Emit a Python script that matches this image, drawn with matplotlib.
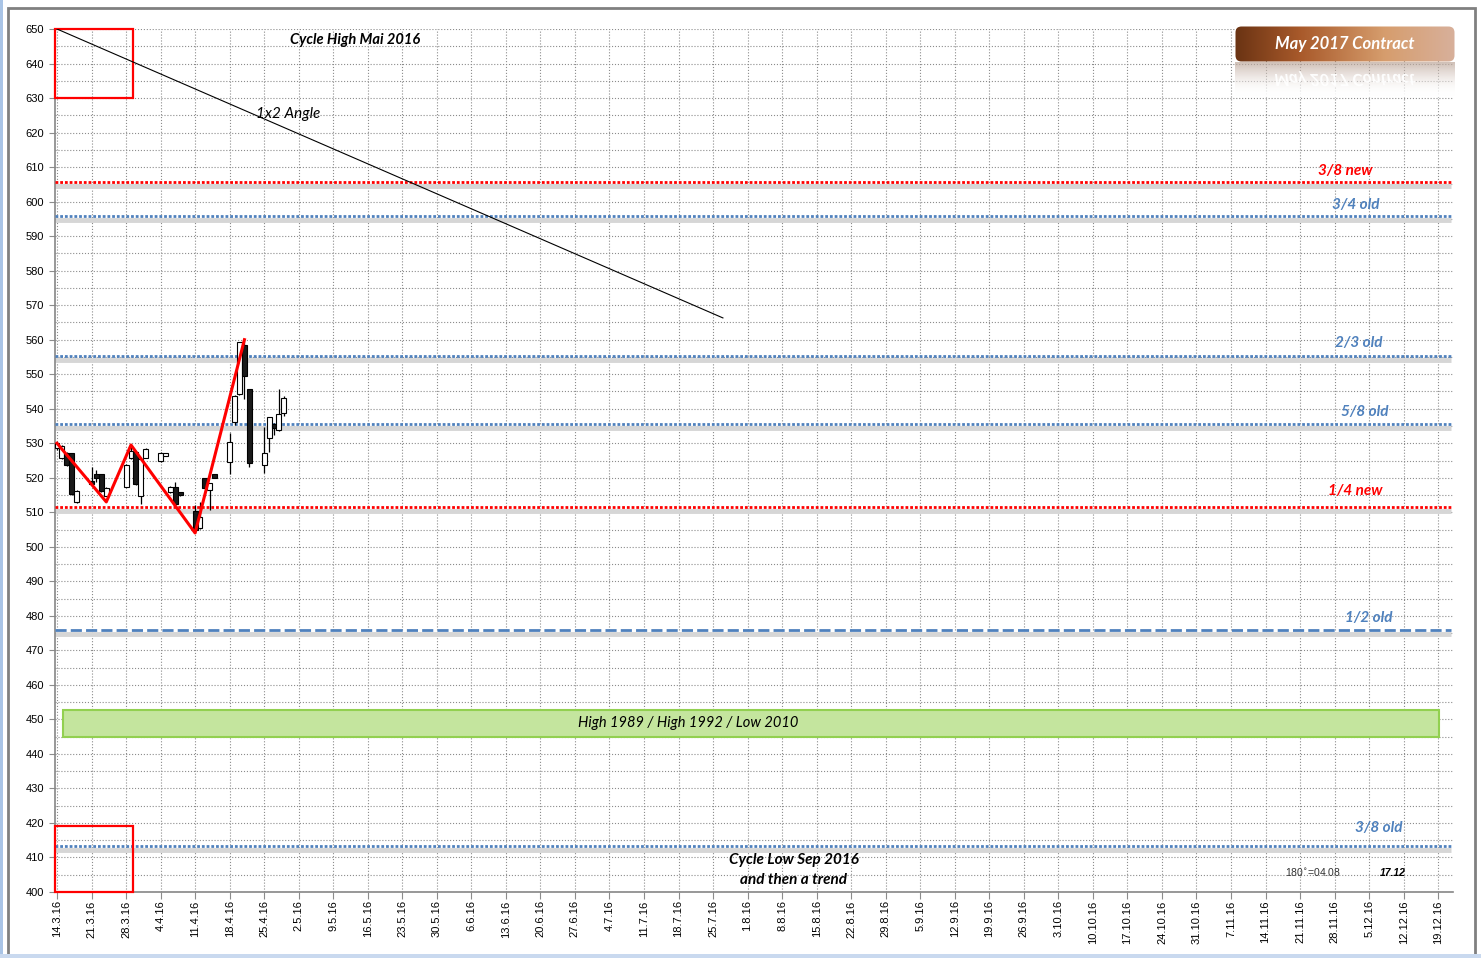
import datetime as dt
import numpy as np
import matplotlib
matplotlib.use('Agg')
import matplotlib.pyplot as plt
from matplotlib.patches import FancyBboxPatch, Rectangle, PathPatch
from matplotlib.textpath import TextPath
from matplotlib.font_manager import FontProperties
from matplotlib.transforms import Affine2D
from matplotlib.colors import LinearSegmentedColormap, to_rgb

# --- data ---
candle_dates = ['14.3.16', '15.3.16', '16.3.16', '17.3.16', '18.3.16',
                '21.3.16', '22.3.16', '23.3.16', '24.3.16',
                '28.3.16', '29.3.16', '30.3.16', '31.3.16', '1.4.16',
                '4.4.16', '5.4.16', '6.4.16', '7.4.16', '8.4.16',
                '11.4.16', '12.4.16', '13.4.16', '14.4.16', '15.4.16',
                '18.4.16', '19.4.16', '20.4.16', '21.4.16', '22.4.16',
                '25.4.16', '26.4.16', '27.4.16', '28.4.16', '29.4.16']
opens = [528.5, 525.6, 527.3, 527.1, 512.9,
         519.1, 521.0, 521.0, 514.8,
         517.4, 525.6, 527.6, 514.8, 525.8,
         524.9, 526.4, 515.8, 517.2, 515.8,
         510.5, 505.4, 519.8, 516.4, 521.0,
         524.7, 536.2, 544.2, 558.5, 545.6,
         523.6, 531.4, 535.5, 533.8, 538.7]
highs = [530.5, 529.5, 527.5, 527.3, 516.4,
         523.0, 522.2, 521.2, 517.2,
         524.0, 529.0, 527.8, 525.5, 528.5,
         527.5, 527.3, 517.6, 518.8, 516.0,
         512.0, 513.0, 520.0, 518.6, 521.2,
         533.0, 543.9, 559.4, 560.0, 545.8,
         534.8, 537.7, 536.0, 545.6, 543.6]
lows = [528.0, 525.3, 523.5, 515.0, 512.7,
        517.9, 518.9, 515.8, 514.6,
        517.2, 525.4, 517.9, 512.4, 525.6,
        524.7, 526.2, 515.6, 512.2, 514.8,
        504.0, 505.2, 516.8, 510.7, 519.8,
        521.0, 535.3, 544.0, 542.8, 523.2,
        521.3, 527.6, 532.3, 533.6, 537.9]
closes = [530.0, 529.2, 523.7, 515.2, 516.2,
          518.1, 520.0, 516.2, 517.0,
          523.7, 527.8, 518.1, 525.3, 528.3,
          527.3, 527.1, 517.4, 512.4, 515.0,
          505.0, 508.5, 517.0, 518.4, 520.0,
          530.4, 543.7, 559.2, 549.6, 524.4,
          527.3, 537.5, 534.5, 538.4, 543.0]

zigzag_dates = ['14.3.16', '24.3.16', '29.3.16', '11.4.16', '21.4.16']
zigzag_values = [530, 513, 529.5, 504, 560]

angle_dates = ['14.3.16', '27.7.16']
angle_values = [650, 566.3]

level_names = ['3/8 new', '3/4 old', '2/3 old', '5/8 old', '1/4 new', '1/2 old', '3/8 old']
level_values = [605.7, 595.8, 555.3, 535.6, 511.5, 475.9, 413.3]
level_is_new = [True, False, False, False, True, False, False]

zone_days = [1.2, 280.2]
zone_values = [444.9, 452.7]
zone_label = 'High 1989 / High 1992 / Low 2010'

box_days = [-0.4, 15.4]
box_top_values = [630, 650]
box_bottom_values = [400, 419]

first_tick = dt.date(2016, 3, 14)
n_weeks = 41

W, H = 1481, 958
BASE = first_tick


def day(s):
    d, m, y = map(int, s.split('.'))
    return (dt.date(2000 + y, m, d) - BASE).days


RED = '#ff0000'
BLUE = '#4f81bd'
GRID = '#8c8c8c'

fig = plt.figure(figsize=(W / 100, H / 100), dpi=100)
fig.patch.set_facecolor('white')
ax = fig.add_axes([55 / W, 1 - 892 / H, 1398 / W, 863 / H])
ax.set_xlim(-0.4, 283)
ax.set_ylim(400, 650)

# grid
week_days = [7 * i for i in range(n_weeks)]
week_labels = []
for i in range(n_weeks):
    t = first_tick + dt.timedelta(days=7 * i)
    week_labels.append(f'{t.day}.{t.month}.{t.year % 100}')
ax.set_xticks(week_days)
ax.set_xticklabels(week_labels, rotation=90, fontsize=8, family='Liberation Sans', va='top')
ax.set_yticks(np.arange(400, 651, 10))
ax.set_yticks(np.arange(405, 650, 10), minor=True)
ax.tick_params(axis='y', which='major', labelsize=8, length=4, color=GRID, pad=4)
ax.tick_params(axis='y', which='minor', length=0)
ax.tick_params(axis='x', length=5, color=GRID, pad=1)
for lab in ax.get_yticklabels():
    lab.set_family('Liberation Sans')
ax.grid(True, which='major', axis='both', linestyle=':', color=GRID, linewidth=0.8)
ax.grid(True, which='minor', axis='y', linestyle=':', color=GRID, linewidth=0.8)
ax.set_axisbelow(True)
for s in ['top', 'right']:
    ax.spines[s].set_visible(False)
for s in ['left', 'bottom']:
    ax.spines[s].set_color('#868686')
    ax.spines[s].set_linewidth(1.2)

# green zone
ax.add_patch(Rectangle((zone_days[0], zone_values[0]), zone_days[1] - zone_days[0],
                       zone_values[1] - zone_values[0], facecolor='#c4e59e',
                       edgecolor='#92d050', linewidth=1.5, zorder=2))

# levels with shadow
for name, v, new in zip(level_names, level_values, level_is_new):
    col = RED if new else BLUE
    ax.plot([-0.4, 282.6], [v - 1.1, v - 1.1], color='#d6d6d6', lw=3.5,
            solid_capstyle='butt', zorder=2)
    ls = (0, (4, 1.5)) if name == '1/2 old' else (0, (1, 0.7))
    ax.plot([-0.4, 282.6], [v, v], color=col, lw=2.0, linestyle=ls, zorder=3)

# red boxes
for vals in (box_top_values, box_bottom_values):
    ax.add_patch(Rectangle((box_days[0], vals[0]), box_days[1] - box_days[0],
                           vals[1] - vals[0], fill=False, edgecolor=RED,
                           linewidth=1.6, zorder=5, clip_on=False))

# candles
cx = [day(s) for s in candle_dates]
ax.vlines(cx, lows, highs, color='black', linewidth=0.9, zorder=4)
for x, o, c in zip(cx, opens, closes):
    up = c >= o
    ax.bar(x, abs(c - o), bottom=min(o, c), width=1.0,
           color='white' if up else '#1a1a1a', edgecolor='black', linewidth=0.8, zorder=5)

# zigzag and angle line
ax.plot([day(s) for s in zigzag_dates], zigzag_values, color=RED, lw=2.2, zorder=6)
ax.plot([day(s) for s in angle_dates], angle_values, color='black', lw=0.8, zorder=6)


def ftext(x, y, s, **kw):
    fig.text(x / W, 1 - y / H, s, ha='center', va='center', **kw)


ftext(688, 723, zone_label, fontsize=10.5, style='italic', family='Lato')
ftext(355, 40, 'Cycle High Mai 2016', fontsize=10.5, weight='bold', style='italic', family='Lato')
ftext(288, 114, '1x2 Angle', fontsize=11, style='italic', family='Lato')
ftext(794, 860, 'Cycle Low Sep 2016', fontsize=11, weight='bold', style='italic', family='Lato')
ftext(794, 880, 'and then a trend', fontsize=11, weight='bold', style='italic', family='Lato')
ftext(1313, 872, '180$^{\\circ}$=04.08', fontsize=7.5, family='Liberation Sans', color='#333333')
ftext(1393, 873, '17.12', fontsize=7.5, weight='bold', style='italic', family='Liberation Sans')

label_pos = [(1345, 171), (1356, 205), (1359, 343), (1365, 412), (1355, 491), (1369, 618), (1379, 828)]
for name, new, (x, y) in zip(level_names, level_is_new, label_pos):
    ftext(x, y, name, fontsize=11, weight='bold', style='italic', family='Lato',
          color=RED if new else BLUE)

# banner "May 2017 Contract"
bax = fig.add_axes([1235 / W, 1 - 62 / H, 220 / W, 36 / H])
bax.set_xlim(0, 220)
bax.set_ylim(0, 36)
bax.axis('off')
cmap = LinearSegmentedColormap.from_list('brown', [(0, '#6a3313'), (0.3, '#a95a2b'),
                                                   (0.68, '#d69d6d'), (1, '#d8b09b')])
im = bax.imshow(np.linspace(0, 1, 256)[None, :], cmap=cmap, extent=(0, 220, 0, 36),
                aspect='auto')
clip = FancyBboxPatch((0.5, 0.5), 219, 35, boxstyle='round,pad=0,rounding_size=6',
                      transform=bax.transData, facecolor='none', edgecolor='none')
bax.add_patch(clip)
im.set_clip_path(clip)
bax.text(110, 18, 'May 2017 Contract', color='white', fontsize=12, weight='bold',
         style='italic', family='Lato', ha='center', va='center')

# reflection
rax = fig.add_axes([1235 / W, 1 - 97 / H, 220 / W, 35 / H])
rax.set_xlim(0, 220)
rax.set_ylim(0, 35)
rax.axis('off')
grad = np.ones((64, 2, 4))
grad[..., :3] = to_rgb('#bfa99c')
grad[..., 3] = np.linspace(0.0, 0.8, 64)[:, None] ** 1.3
rax.imshow(grad, extent=(0, 220, 0, 35), aspect='auto', origin='lower')
fp = FontProperties(family='Lato', weight='bold', style='italic')
tp = TextPath((0, 0), 'May 2017 Contract', size=15, prop=fp)
ext = tp.get_extents()
sc = 140 / ext.width
tr = Affine2D().translate(-ext.x0 - ext.width / 2, 0).scale(sc, -sc).translate(110, 23)
rax.add_patch(PathPatch(tr.transform_path(tp), facecolor='white', edgecolor='none', alpha=0.95))
fade = np.ones((64, 2, 4))
fade[..., 3] = np.linspace(1.0, 0.0, 64)[:, None] ** 1.6
rax.imshow(fade, extent=(0, 220, 0, 35), aspect='auto', origin='lower', zorder=5)

# outer frame
fig.add_artist(Rectangle((8 / W, 1 - 955 / H), 1467 / W, 947 / H, transform=fig.transFigure,
                         fill=False, edgecolor='#808080', linewidth=2))
fig.add_artist(Rectangle((0, 0), 3 / W, 1, transform=fig.transFigure,
                         facecolor='#a9c4e6', edgecolor='none'))
fig.add_artist(Rectangle((0, 0), 1, 4 / H, transform=fig.transFigure,
                         facecolor='#c9d9ef', edgecolor='none'))

fig.savefig('out.png', dpi=100)
